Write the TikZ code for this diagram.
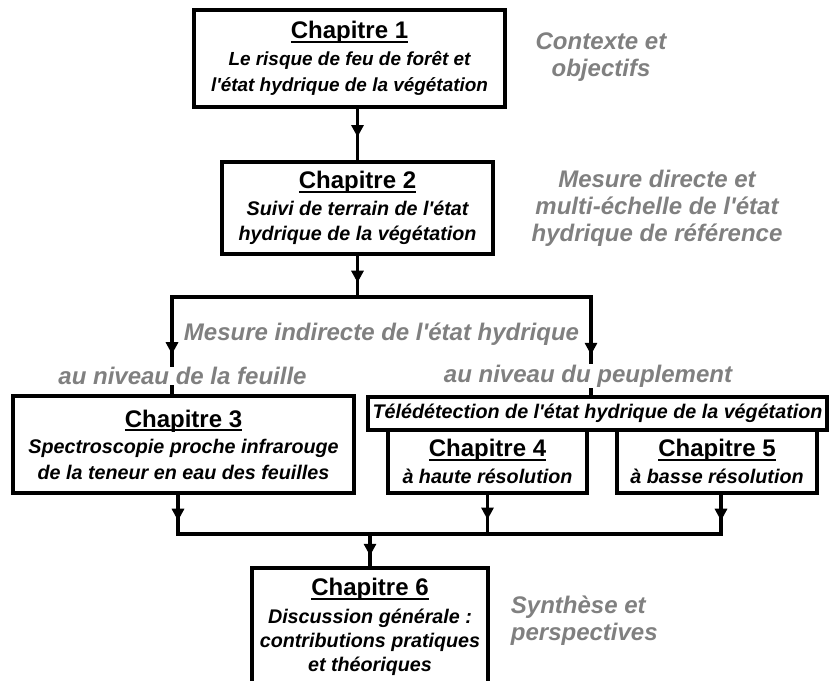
\documentclass[tikz,border=0pt]{standalone}
\usepackage{fontspec}
\setmainfont{Liberation Sans}[Ligatures=TeXOff]
\usetikzlibrary{arrows.meta, positioning, decorations.markings}
\definecolor{notegray}{gray}{0.5}
\newdimen\px \px=0.75pt
\newcommand{\chaptitle}[1]{{\fontsize{18}{21}\selectfont\upshape\bfseries\setbox0\hbox{#1}\leavevmode\rlap{\rule[-3pt]{\wd0}{1.3pt}}\box0}}

\begin{document}
\begin{tikzpicture}[x=0.75pt, y=-0.75pt,
    chapbox/.style={draw, line width=3pt, align=center, inner sep=1pt,
      font=\fontsize{14.8}{19}\selectfont\bfseries\itshape},
    notelabel/.style={text=notegray, align=center, inner sep=0.5pt,
      font=\fontsize{18}{20.25}\selectfont\bfseries\itshape},
    link/.style={line width=2.8pt},
    bar/.style={link, line cap=rect},
    flow/.style={link, postaction={decorate}, decoration={markings,
      mark=at position #1 with {\arrow{Triangle[width=9pt,length=9pt]}}}},
    flow/.default=0.6]
  \useasboundingbox (0,0) rectangle (829,681);

  \node[chapbox, minimum width=311\px, minimum height=97\px,
    font=\fontsize{14.2}{19.5}\selectfont\bfseries\itshape] (c1) at (349.5,58.5)
    {\chaptitle{Chapitre 1}\\[0.5pt] Le risque de feu de forêt et\\ l'état hydrique de la végétation};
  \node[chapbox, minimum width=271\px, minimum height=92\px] (c2) at (357.5,208)
    {\chaptitle{Chapitre 2}\\[1pt] Suivi de terrain de l'état\\ hydrique de la végétation};
  \node[chapbox, minimum width=341\px, minimum height=97\px] (c3) at (183.5,444.5)
    {\chaptitle{Chapitre 3}\\[1pt] Spectroscopie proche infrarouge\\ de la teneur en eau des feuilles};
  \node[chapbox, minimum width=459\px, minimum height=33\px] (tele) at (597.5,413.5)
    {Télédétection de l'état hydrique de la végétation};
  \node[chapbox, minimum width=199\px, minimum height=63\px] (c4) at (487.5,461.5)
    {\chaptitle{Chapitre 4}\\[1pt] à haute résolution};
  \node[chapbox, minimum width=200\px, minimum height=63\px] (c5) at (717,461.5)
    {\chaptitle{Chapitre 5}\\[1pt] à basse résolution};
  \node[chapbox, minimum width=236\px, minimum height=118\px,
    font=\fontsize{14.8}{18}\selectfont\bfseries\itshape] (c6) at (370,627)
    {\chaptitle{Chapitre 6}\\[3pt] Discussion générale :\\ contributions pratiques\\ et théoriques};

  \coordinate (leaf) at (172,297);
  \coordinate (stand) at (591,297);
  \coordinate (j3) at (178,534);
  \coordinate (j5) at (721,534);

  \draw[flow=0.55] (c2.north |- c1.south) -- (c2.north);
  \draw[flow=0.65] (c2.south) -- (c2.south |- leaf);
  \draw[bar] (leaf) -- (stand);
  \draw[flow=0.59] (leaf) -- (leaf |- c3.north);
  \draw[flow=0.59] (stand) -- (stand |- tele.north);

  \draw[flow=0.66] (c3.south -| j3) -- (j3);
  \draw[flow=0.63] (c4.south) -- (c4.south |- j3);
  \draw[flow=0.66] (c5.south -| j5) -- (j5);
  \draw[bar] (j3) -- (j5);
  \draw[flow=0.68] (c6.north |- j3) -- (c6.north);

  \node[notelabel] (ctx) at (601,57) {Contexte et\\ objectifs};
  \node[notelabel] (ref) at (657,208) {Mesure directe et\\ multi-échelle de l'état\\ hydrique de référence};
  \node[notelabel] (ind) at (381.5,334) {Mesure indirecte de l'état hydrique};
  \node[notelabel, fill=white] (leafnote) at (182.5,376) {au niveau de la feuille};
  \node[notelabel, fill=white] (standnote) at (588,376) {au niveau du peuplement};
  \node[notelabel, align=left, anchor=west] (syn) at (510,621) {Synthèse et\\ perspectives};
\end{tikzpicture}
\end{document}
